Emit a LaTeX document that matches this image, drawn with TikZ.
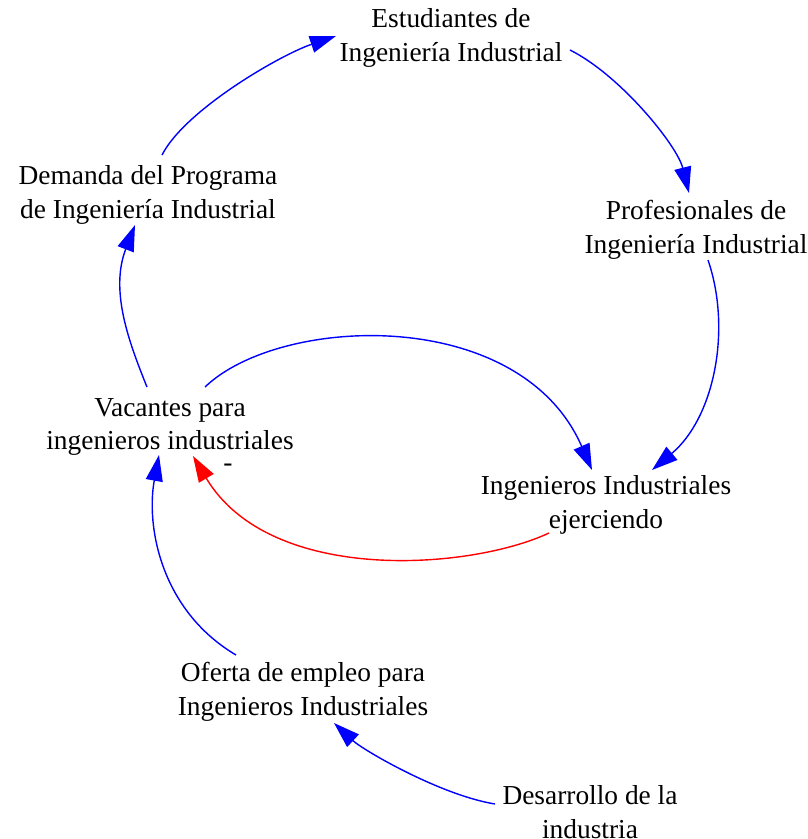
\documentclass[tikz,border=0pt]{standalone}
\usepackage{fontspec}
\setmainfont{Liberation Serif}
\usepackage{tikz}
\usetikzlibrary{calc,arrows.meta}
\definecolor{posblue}{RGB}{0,0,255}
\definecolor{negred}{RGB}{255,0,0}
\tikzstyle{var} = [align=center, inner sep=0pt, font=\fontsize{27.4}{33.5}\selectfont]
\tikzstyle{sign} = [inner sep=0pt, font=\fontsize{27.4}{33.5}\selectfont]
\tikzstyle{link} = [-{Triangle[length=26pt,width=17pt]}, line width=1.4pt, posblue]
\tikzstyle{neglink} = [link, negred]

\begin{document}
\begin{tikzpicture}[x=1pt, y=-1pt]
		\useasboundingbox (0,0) rectangle (808,839);
		\node (est) [var] at (451,38) {Estudiantes de\\Ingeniería Industrial};
		\node (dem) [var] at (148,195) {Demanda del Programa\\de Ingeniería Industrial};
		\node (pro) [var] at (696,230) {Profesionales de\\Ingeniería Industrial};
		\node (vac) [var] at (170,427) {Vacantes para\\ingenieros industriales};
		\node (ing) [var] at (606,505) {Ingenieros Industriales\\ejerciendo};
		\node (ofe) [var] at (303,692) {Oferta de empleo para\\Ingenieros Industriales};
		\node (des) [var] at (590,812) {Desarrollo de la\\industria};
		\draw[link] ($(dem)+(14,-40)$) .. controls (185,110) and (280,55) .. ($(est)+(-115,-2)$);
		\draw[link] ($(est)+(119,12)$) .. controls (620,75) and (677,145) .. ($(pro)+(-7,-37)$);
		\draw[link] ($(pro)+(12,30)$) .. controls (732,330) and (714,418) .. ($(ing)+(46,-35)$);
		\draw[link] ($(vac)+(35,-40)$) .. controls (280,315) and (520,305) .. ($(ing)+(-14,-35)$);
		\draw[neglink] ($(ing)+(-57,28)$) .. controls (470,570) and (270,585) .. ($(vac)+(23,29)$);
		\node (minus) [sign] at (228,468) {-};
		\draw[link] ($(vac)+(-23,-40)$) .. controls (128,340) and (110,290) .. ($(dem)+(-13,30)$);
		\draw[link] ($(ofe)+(-67,-37)$) .. controls (160,610) and (146,525) .. ($(vac)+(-11,28)$);
		\draw[link] ($(des)+(-95,-8)$) .. controls (440,795) and (363,750) .. ($(ofe)+(31,31)$);
\end{tikzpicture}
\end{document}
